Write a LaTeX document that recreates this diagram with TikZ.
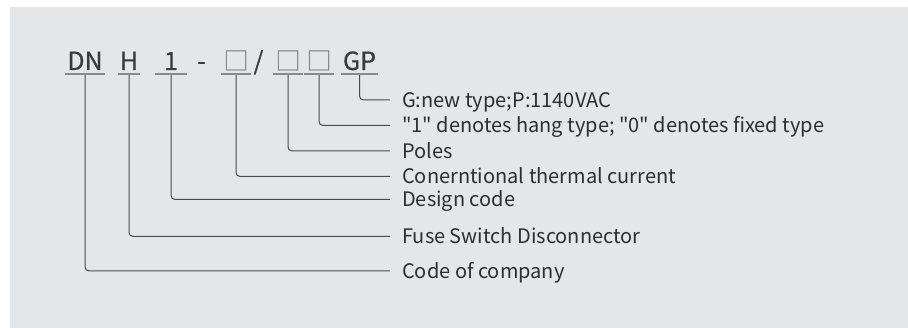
\documentclass[tikz,border=0pt]{standalone}
\usepackage{fontspec}
\setmainfont{Noto Sans CJK SC}[Ligatures=TeXOff]
\newfontfamily\codefont{Noto Sans CJK SC}[Ligatures=TeXOff, FakeBold=0.6]
\definecolor{panelgray}{HTML}{E5E6E8}
\definecolor{codetext}{HTML}{3A3A3A}
\definecolor{boxgray}{HTML}{8A8A8A}
\definecolor{connline}{HTML}{4A4A4A}
\definecolor{desctext}{HTML}{2E2E2E}

\begin{document}
\begin{tikzpicture}[x=1pt, y=-1pt,
  code/.style={inner sep=0pt, anchor=base, text depth=0pt, font=\codefont\fontsize{25}{25}\selectfont, text=codetext},
  box/.style={code, text=boxgray},
  desc/.style={anchor=west, inner xsep=12pt, inner ysep=0pt, text height=14.6pt, text depth=0pt, font=\fontsize{20}{20}\selectfont, text=desctext},
  uline/.style={draw=boxgray, line width=2pt},
  conn/.style={draw=connline, line width=1pt, rounded corners=4pt}]
\useasboundingbox (0,0) rectangle (908,328);
\fill[panelgray] (10,7) rectangle (908,328);
% model code
\node[code] (dn) at (85,70) {DN};
\node[code] (h) at (129,70) {H};
\node[code, minimum width=28pt] (one) at (171,70) {1};
\node[code] (dash) at (201.5,70) {-};
\node[box] (p1) at (236,70) {□};
\node[code] (slash) at (258.5,70) {/};
\node[box] (p2) at (288,70) {□};
\node[box] (p3) at (319,70) {□};
\node[code] (gp) at (359.5,70) {GP};
\foreach \n in {dn,h,one,p1,p2,p3,gp}
  \draw[uline] ([xshift=-2pt,yshift=-4pt]\n.south west) -- ([xshift=2pt,yshift=-4pt]\n.south east);
% meanings
\node[desc] (lgp) at (390,100) {G:new type;P:1140VAC};
\node[desc] (lp3) at (390,125.5) {"1" denotes hang type; "0" denotes fixed type};
\node[desc] (lp2) at (390,151) {Poles};
\node[desc] (lp1) at (390,176.5) {Conerntional thermal current};
\node[desc] (lone) at (390,199.5) {Design code};
\node[desc] (lh) at (390,236.5) {Fuse Switch Disconnector};
\node[desc] (ldn) at (390,271) {Code of company};
\draw[conn] ([yshift=-5pt]gp.south) |- (lgp.west);
\draw[conn] ([yshift=-5pt]p3.south) |- (lp3.west);
\draw[conn] ([yshift=-5pt]p2.south) |- (lp2.west);
\draw[conn] ([yshift=-5pt]p1.south) |- (lp1.west);
\draw[conn] ([yshift=-5pt]one.south) |- (lone.west);
\draw[conn] ([yshift=-5pt]h.south) |- (lh.west);
\draw[conn] ([yshift=-5pt]dn.south) |- (ldn.west);
\end{tikzpicture}
\end{document}
